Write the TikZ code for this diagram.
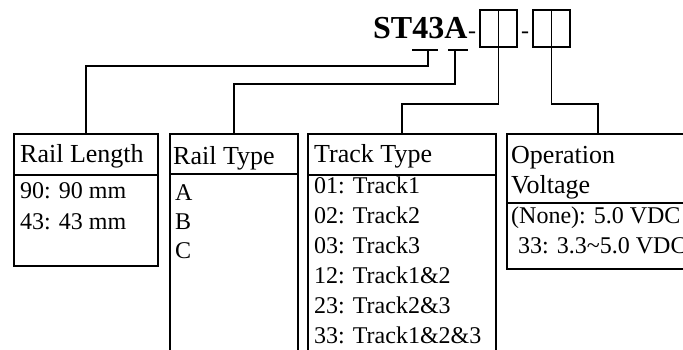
\documentclass[tikz,border=0pt]{standalone}
\usepackage{fontspec}
\setmainfont{Liberation Serif}
\usetikzlibrary{positioning}
\tikzset{
  every node/.style={font=\fontsize{24}{30}\selectfont},
  cell/.style={draw,line width=1.8pt,anchor=north west,inner sep=0pt},
  txt/.style={anchor=base west,inner sep=0pt},
  head/.style={txt,font=\fontsize{26}{30}\selectfont},
  digit/.style={draw,line width=1.8pt,minimum size=37pt,inner sep=0pt,anchor=north west},
  wire/.style={line width=1.8pt},
  code/.style={txt,font=\fontsize{32}{36}\selectfont\bfseries},
}
\begin{document}
\begin{tikzpicture}[x=1pt,y=-1pt]
\useasboundingbox (0,0) rectangle (683,349);
\clip (0,0) rectangle (683,349);

% part number
\node[code] (pn) at (373,38) {ST43A};
\node[txt] (dasha) at (468,38) {-};
\node[digit] (trkbox) at (479,9) {};
\node[txt] (dashb) at (521,38) {-};
\node[digit] (voltbox) at (532,9) {};

% marks under the code
\coordinate (lenmark) at (428,50);
\coordinate (typemark) at (455,50);
\draw[wire] (412,50) -- (438,50);
\draw[wire] (448,50) -- (468,50);

% columns
\node[cell,minimum width=144pt,minimum height=41pt] (lenhead) at (13,133) {};
\node[cell,minimum width=144pt,minimum height=91pt] (lenbody) at (13,174) {};
\node[cell,minimum width=128pt,minimum height=40pt] (typehead) at (169,133) {};
\node[cell,minimum width=128pt,minimum height=200pt] (typebody) at (169,173) {};
\node[cell,minimum width=188pt,minimum height=41pt] (trkhead) at (307,133) {};
\node[cell,minimum width=188pt,minimum height=200pt] (trkbody) at (307,174) {};
\node[cell,minimum width=200pt,minimum height=69pt] (volthead) at (506,133) {};
\node[cell,minimum width=200pt,minimum height=66pt] (voltbody) at (506,202) {};

% connectors
\draw[wire] (lenmark) -- ++(0,16) -| (lenhead.north);
\draw[wire] (typemark) -- ++(0,34) -| (typehead.north);
\draw[wire] (trkbox.north) -- (trkbox.south) -- ++(0,56) -| (trkhead.north);
\draw[wire] (voltbox.north) -- (voltbox.south) -- ++(0,56) -| ([xshift=-9pt]volthead.north);

% texts
\node[head] (lentitle) at (20,162) {Rail Length};
\node[txt] (len1) at (20,198) {90: 90 mm};
\node[txt] (len2) at (20,229) {43: 43 mm};

\node[head] (typetitle) at (173,164) {Rail Type};
\foreach \t [count=\i] in {A,B,C}
  \node[txt] (type\i) at (175,{171+29*\i}) {\t};

\node[head] (trktitle) at (314,162) {Track Type};
\foreach \t [count=\i] in {01: Track1,02: Track2,03: Track3,12: Track1\&2,23: Track2\&3,33: Track1\&2\&3}
  \node[txt] (trk\i) at (314,{163+30*\i}) {\t};

\node[head] (volttitle) at (511,163) {Operation};
\node[head] (volttitleb) at (511,193) {Voltage};
\node[txt] (volt1) at (511,223) {(None): 5.0 VDC};
\node[txt] (volt2) at (518,253) {33: 3.3\textasciitilde5.0 VDC};
\end{tikzpicture}
\end{document}
